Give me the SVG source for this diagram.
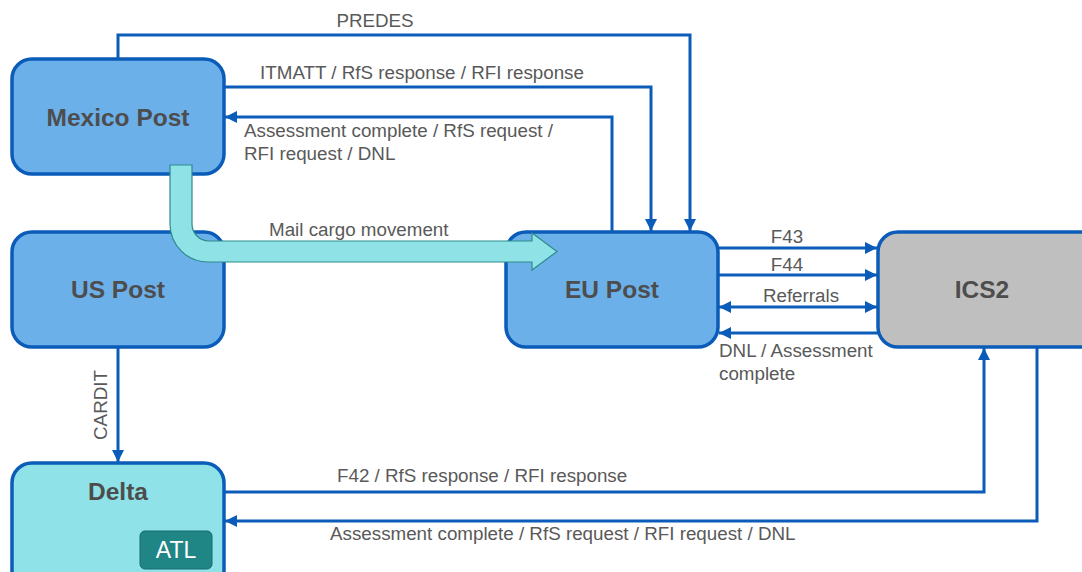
<svg xmlns="http://www.w3.org/2000/svg" width="1082" height="572" viewBox="0 0 1082 572">
<defs>
<marker id="ah" viewBox="0 0 12 12" markerWidth="12" markerHeight="12" refX="12" refY="6" orient="auto-start-reverse" markerUnits="userSpaceOnUse">
<path d="M0,0 L12,6 L0,12 z" fill="#0b5cb8"/>
</marker>
</defs>
<style>
.node{stroke:#0b5cb8;stroke-width:3.5}
.blue{fill:#6cb0ea}
.cyan{fill:#8fe3e8}
.gray{fill:#bfbfbf}
.nl{font-family:"Liberation Sans",Arial,sans-serif;font-weight:bold;font-size:24.5px;fill:#4d4d4d;text-anchor:middle}
.cl{font-family:"Liberation Sans",Arial,sans-serif;font-size:18.8px;fill:#595959}
.c{fill:none;stroke:#0b5cb8;stroke-width:3}
</style>
<rect width="1082" height="572" fill="#ffffff"/>

<g id="connectors">
<path class="c" d="M118,59 V35 H690 V231" marker-end="url(#ah)"/>
<path class="c" d="M224,87 H651 V231" marker-end="url(#ah)"/>
<path class="c" d="M612,232 V117 H225" marker-end="url(#ah)"/>
<path class="c" d="M718,248 H877" marker-end="url(#ah)"/>
<path class="c" d="M718,275 H877" marker-end="url(#ah)"/>
<path class="c" d="M719,307 H877" marker-start="url(#ah)" marker-end="url(#ah)"/>
<path class="c" d="M878,333 H719" marker-end="url(#ah)"/>
<path class="c" d="M118,347 V462" marker-end="url(#ah)"/>
<path class="c" d="M224,492 H984 V348" marker-end="url(#ah)"/>
<path class="c" d="M1037,347 V521 H225" marker-end="url(#ah)"/>
<text class="cl" x="375" y="27" text-anchor="middle">PREDES</text>
<text class="cl" x="422" y="79" text-anchor="middle">ITMATT / RfS response / RFI response</text>
<text class="cl" x="244" y="137">Assessment complete / RfS request /</text>
<text class="cl" x="244" y="160">RFI request / DNL</text>
<text class="cl" x="787" y="243" text-anchor="middle">F43</text>
<text class="cl" x="787" y="271" text-anchor="middle">F44</text>
<text class="cl" x="801" y="302" text-anchor="middle">Referrals</text>
<text class="cl" x="719" y="357">DNL / Assessment</text>
<text class="cl" x="719" y="380">complete</text>
<text class="cl" transform="translate(107,405) rotate(-90)" text-anchor="middle">CARDIT</text>
<text class="cl" x="337" y="482">F42 / RfS response / RFI response</text>
<text class="cl" x="330" y="540">Assessment complete / RfS request / RFI request / DNL</text>
</g>

<g id="mexico-post">
<rect class="node blue" x="12" y="59" width="212" height="115" rx="20"/>
<text class="nl" x="118" y="126">Mexico Post</text>
</g>
<g id="us-post">
<rect class="node blue" x="12" y="232" width="212" height="115" rx="20"/>
<text class="nl" x="118" y="298">US Post</text>
</g>
<g id="eu-post">
<rect class="node blue" x="506" y="232" width="212" height="115" rx="20"/>
<text class="nl" x="612" y="298">EU Post</text>
</g>
<g id="ics2">
<rect class="node gray" x="878" y="232" width="230" height="115" rx="20"/>
<text class="nl" x="982" y="298">ICS2</text>
</g>
<g id="delta">
<rect class="node cyan" x="12" y="463" width="212" height="130" rx="20"/>
<text class="nl" x="118" y="500">Delta</text>
<rect x="140" y="531" width="72" height="38" rx="5" fill="#1f8585" stroke="#166b6b" stroke-width="1"/>
<text x="176" y="558" font-family="Liberation Sans,Arial,sans-serif" font-size="23" fill="#ffffff" text-anchor="middle">ATL</text>
</g>

<g id="mail-cargo">
<path d="M170,165 H192 V224 A17,17 0 0 0 209,241 H532 V233 L557,251.5 L532,270 V262 H208 A38,38 0 0 1 170,224 Z" fill="#8fe3e6" stroke="#2e8b8b" stroke-width="1.2"/>
<text class="cl" x="269" y="236">Mail cargo movement</text>
</g>
</svg>
